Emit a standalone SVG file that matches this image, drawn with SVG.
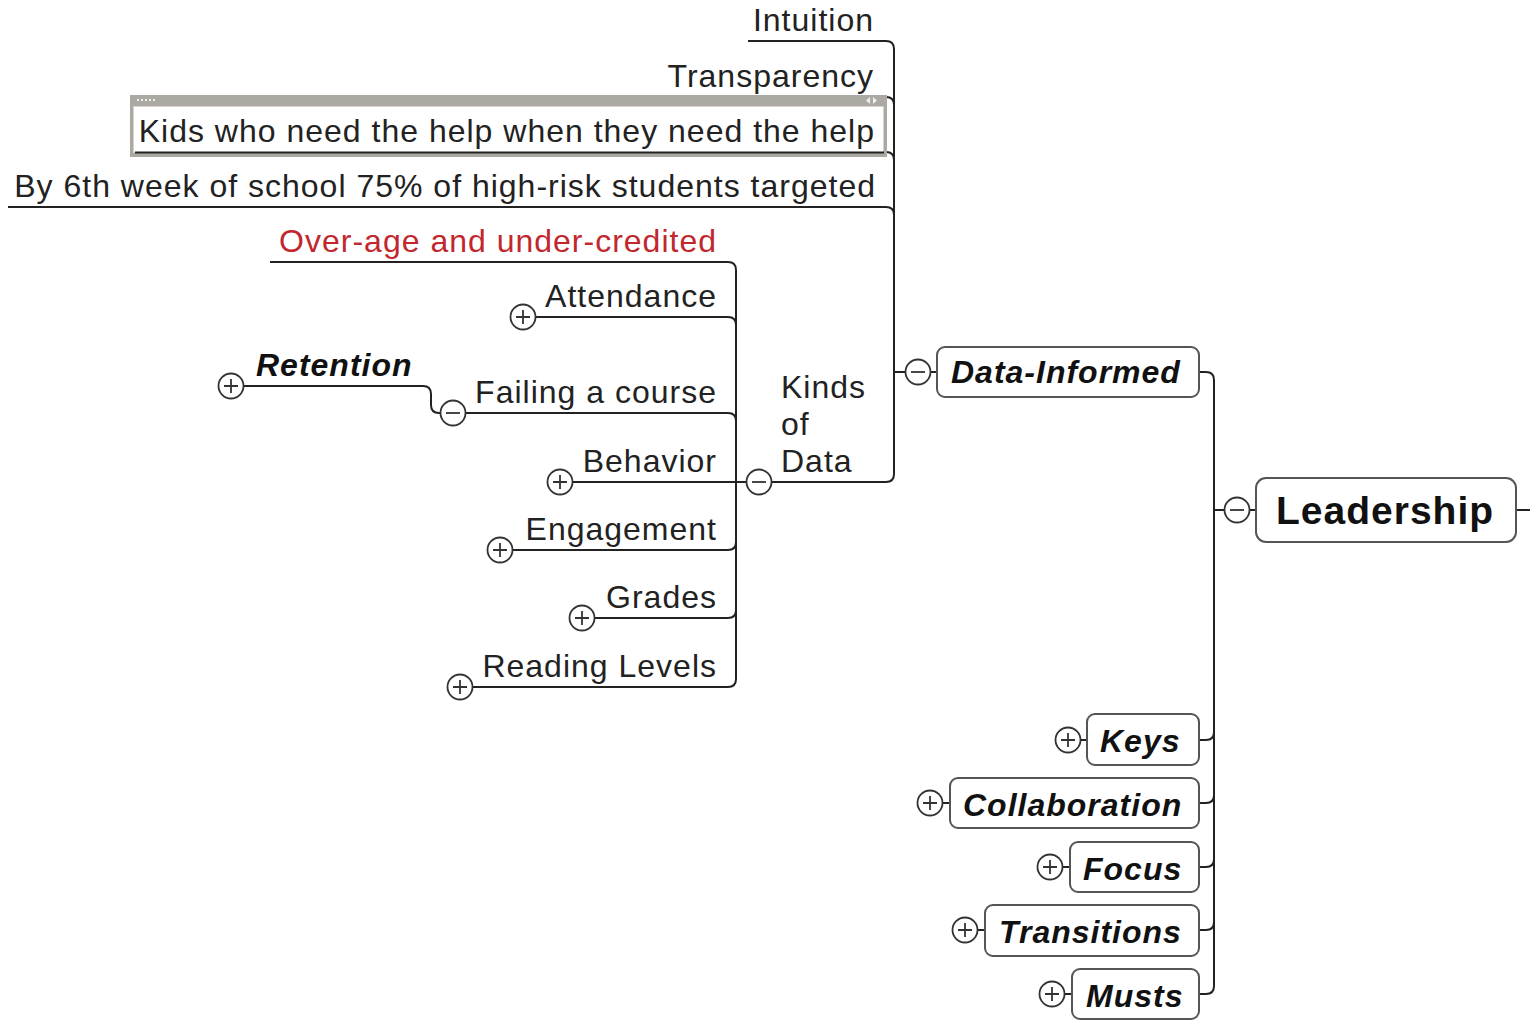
<svg xmlns="http://www.w3.org/2000/svg" width="1534" height="1020" viewBox="0 0 1534 1020">
<style>
.t{font-family:"Liberation Sans",Arial,sans-serif;font-size:32px;letter-spacing:1px;fill:#222;text-anchor:end}
.bi{font-family:"Liberation Sans",Arial,sans-serif;font-size:32px;letter-spacing:1px;font-weight:bold;font-style:italic;fill:#111}
.ln{fill:none;stroke:#222;stroke-width:2}
.box{fill:#fff;stroke:#555;stroke-width:2}
.tg circle{fill:#fff;stroke:#333;stroke-width:1.8}
.tg path{fill:none;stroke:#333;stroke-width:1.8}
</style>
<defs>
<g id="plus" class="tg"><circle r="12.5"/><path d="M-7,0H7M0,-7V7"/></g>
<g id="minus" class="tg"><circle r="12.5"/><path d="M-7,0H7"/></g>
</defs>

<g id="connectors">
<path class="ln" d="M748,41H886Q894,41 894,49V474Q894,482 886,482H771"/>
<path class="ln" d="M660,97H886Q894,97 894,105"/>
<path class="ln" d="M886,152Q894,152 894,160"/>
<path class="ln" d="M8,207H886Q894,207 894,215"/>
<path class="ln" d="M894,372H907M929,372H937"/>
<path class="ln" d="M270,262H728Q736,262 736,270V679Q736,687 728,687H472"/>
<path class="ln" d="M535,317H728Q736,317 736,325"/>
<path class="ln" d="M465,413H728Q736,413 736,421"/>
<path class="ln" d="M572,482H748"/>
<path class="ln" d="M512,550H728Q736,550 736,542"/>
<path class="ln" d="M594,618H728Q736,618 736,610"/>
<path class="ln" d="M243,386H423Q431,386 431,394V405Q431,413 439,413H442"/>
<path class="ln" d="M1199,372H1206Q1214,372 1214,380V986Q1214,994 1206,994H1199"/>
<path class="ln" d="M1199,740H1206Q1214,740 1214,732"/>
<path class="ln" d="M1199,803H1206Q1214,803 1214,795"/>
<path class="ln" d="M1199,867H1206Q1214,867 1214,859"/>
<path class="ln" d="M1199,930H1206Q1214,930 1214,922"/>
<path class="ln" d="M1214,510H1226M1248,510H1256M1516,510H1530"/>
<path class="ln" d="M1080,740H1087M942,803H950M1062,867H1070M977,930H985M1064,994H1072"/>
</g>

<g id="n-intuition"><text class="t" x="874" y="31">Intuition</text></g>
<g id="n-transparency"><text class="t" x="874" y="87">Transparency</text></g>
<g id="n-kids">
<rect x="130" y="95" width="757" height="62" fill="#aca8a2"/>
<rect x="133.5" y="106.5" width="750" height="46" fill="#fff" stroke="#d6d3cf" stroke-width="1"/>
<path d="M135,152.5H884" stroke="#222" stroke-width="2"/>
<g fill="#eee"><rect x="137" y="99" width="2" height="2"/><rect x="141" y="99" width="2" height="2"/><rect x="145" y="99" width="2" height="2"/><rect x="149" y="99" width="2" height="2"/><rect x="153" y="99" width="2" height="2"/>
<polygon points="870,97 866,100.5 870,104"/><polygon points="873,97 877,100.5 873,104"/></g>
<text class="t" x="875" y="142">Kids who need the help when they need the help</text>
</g>
<g id="n-6thweek"><text class="t" x="876" y="197">By 6th week of school 75% of high-risk students targeted</text></g>
<g id="n-kinds">
<use href="#minus" x="759" y="482"/>
<text class="t" x="781" y="398" style="text-anchor:start">Kinds</text>
<text class="t" x="781" y="435" style="text-anchor:start">of</text>
<text class="t" x="781" y="472" style="text-anchor:start">Data</text>
</g>
<g id="n-overage"><text class="t" x="717" y="252" style="fill:#c1272d">Over-age and under-credited</text></g>
<g id="n-attendance"><use href="#plus" x="523" y="317"/><text class="t" x="717" y="307">Attendance</text></g>
<g id="n-failing"><use href="#minus" x="453" y="413"/><text class="t" x="717" y="403">Failing a course</text></g>
<g id="n-retention"><use href="#plus" x="231" y="386"/><text class="bi" x="256" y="376">Retention</text></g>
<g id="n-behavior"><use href="#plus" x="560" y="482"/><text class="t" x="717" y="472">Behavior</text></g>
<g id="n-engagement"><use href="#plus" x="500" y="550"/><text class="t" x="717" y="540">Engagement</text></g>
<g id="n-grades"><use href="#plus" x="582" y="618"/><text class="t" x="717" y="608">Grades</text></g>
<g id="n-reading"><use href="#plus" x="460" y="687"/><text class="t" x="717" y="677">Reading Levels</text></g>

<g id="n-datainformed">
<use href="#minus" x="918" y="372"/>
<rect class="box" x="937" y="347" width="262" height="50" rx="8"/>
<text class="bi" x="951" y="383">Data-Informed</text>
</g>
<g id="n-leadership">
<use href="#minus" x="1237" y="510"/>
<rect class="box" x="1256" y="478" width="260" height="64" rx="10"/>
<text x="1276" y="524" style="font-family:'Liberation Sans',Arial,sans-serif;font-size:39px;font-weight:bold;letter-spacing:1px;fill:#111">Leadership</text>
</g>
<g id="n-keys"><use href="#plus" x="1068" y="740"/><rect class="box" x="1087" y="714" width="112" height="51" rx="8"/><text class="bi" x="1100" y="752">Keys</text></g>
<g id="n-collab"><use href="#plus" x="930" y="803"/><rect class="box" x="950" y="778" width="249" height="50" rx="8"/><text class="bi" x="963" y="816">Collaboration</text></g>
<g id="n-focus"><use href="#plus" x="1050" y="867"/><rect class="box" x="1070" y="842" width="129" height="50" rx="8"/><text class="bi" x="1083" y="880">Focus</text></g>
<g id="n-transitions"><use href="#plus" x="965" y="930"/><rect class="box" x="985" y="905" width="214" height="51" rx="8"/><text class="bi" x="999" y="943">Transitions</text></g>
<g id="n-musts"><use href="#plus" x="1052" y="994"/><rect class="box" x="1072" y="969" width="127" height="50" rx="8"/><text class="bi" x="1086" y="1007">Musts</text></g>
</svg>
